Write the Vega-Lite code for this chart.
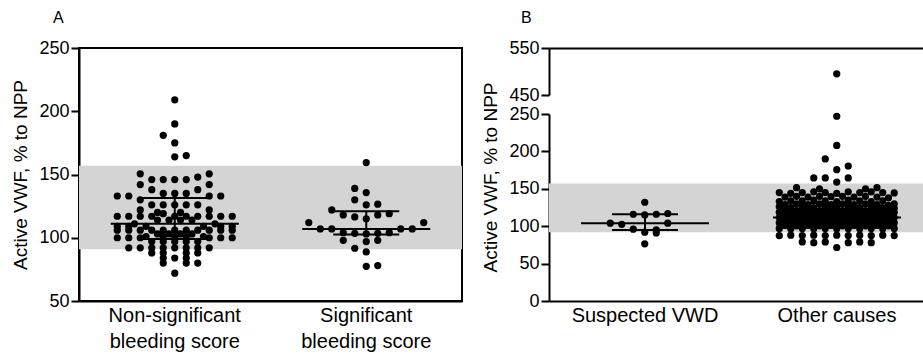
{
  "$schema": "https://vega.github.io/schema/vega-lite/v6.json",
  "padding": {"left": 10, "top": 9, "right": 0, "bottom": 0},
  "spacing": 18,
  "resolve": {"scale": {"x": "independent", "y": "independent"}},
  "config": {
    "font": "Liberation Sans",
    "view": {"stroke": null},
    "axis": {"domainColor": "black", "domainWidth": 2, "tickColor": "black", "tickWidth": 2, "tickSize": 8, "labelColor": "black", "labelFontSize": 18, "titleColor": "black", "titleFontSize": 19, "titleFontWeight": "normal", "grid": false, "labelFont": "Liberation Sans", "titleFont": "Liberation Sans", "labelOverlap": false},
    "axisX": {"ticks": false, "labelPadding": 4, "labelFontSize": 20, "labelAngle": 0, "labelLineHeight": 26},
    "axisY": {"labelPadding": 2, "titlePadding": 8, "labelOverlap": false},
    "title": {"fontSize": 16, "fontWeight": "normal", "font": "Liberation Sans", "color": "black", "anchor": "start", "frame": "group"}
  },
  "datasets": {
    "bandA": [{"lo": 91, "hi": 157}],
    "bandB": [{"lo": 92, "hi": 157}],
    "medA": [{"g": "NS", "v": 111}, {"g": "S", "v": 107}],
    "quartA": [{"g": "NS", "v": 99}, {"g": "NS", "v": 131.5}, {"g": "S", "v": 102.5}, {"g": "S", "v": 121}],
    "iqrA": [{"g": "NS", "q1": 99, "q3": 131.5}, {"g": "S", "q1": 102.5, "q3": 121}],
    "medB": [{"g": "SV", "v": 104}, {"g": "OC", "v": 111.5}],
    "quartB": [{"g": "SV", "v": 95}, {"g": "SV", "v": 116}, {"g": "OC", "v": 99}, {"g": "OC", "v": 131}],
    "iqrB": [{"g": "SV", "q1": 95, "q3": 116}, {"g": "OC", "q1": 99, "q3": 131}],
    "ptsA": [
      {"g":"NS","v":209,"s":0},{"g":"NS","v":190,"s":0},{"g":"NS","v":181,"s":-1},{"g":"NS","v":175,"s":0},{"g":"NS","v":164,"s":0},{"g":"NS","v":165,"s":1},
      {"g":"NS","v":150.5,"s":-3},{"g":"NS","v":150.5,"s":3},{"g":"NS","v":148,"s":2},
      {"g":"NS","v":146,"s":-2},{"g":"NS","v":146,"s":-1},{"g":"NS","v":146,"s":0},{"g":"NS","v":146,"s":1},
      {"g":"NS","v":142,"s":-3},{"g":"NS","v":142,"s":3},
      {"g":"NS","v":138,"s":-2},{"g":"NS","v":138,"s":2},
      {"g":"NS","v":135,"s":-1},{"g":"NS","v":135,"s":0},{"g":"NS","v":135,"s":1},
      {"g":"NS","v":133,"s":-5},{"g":"NS","v":133,"s":-4},{"g":"NS","v":133,"s":3},{"g":"NS","v":133,"s":4},
      {"g":"NS","v":130,"s":-3},
      {"g":"NS","v":126,"s":-2},{"g":"NS","v":126,"s":-1},{"g":"NS","v":126,"s":0},{"g":"NS","v":126,"s":1},{"g":"NS","v":126,"s":2},
      {"g":"NS","v":122,"s":-3},{"g":"NS","v":122,"s":3},
      {"g":"NS","v":120,"s":-1.5},{"g":"NS","v":120,"s":0.5},
      {"g":"NS","v":117,"s":-5},{"g":"NS","v":117,"s":-4},{"g":"NS","v":117,"s":-3},{"g":"NS","v":117,"s":-2},{"g":"NS","v":117,"s":0},{"g":"NS","v":117,"s":1},{"g":"NS","v":117,"s":2},{"g":"NS","v":117,"s":3},{"g":"NS","v":117,"s":4},{"g":"NS","v":117,"s":5},{"g":"NS","v":119,"s":-1},
      {"g":"NS","v":114,"s":-1.5},{"g":"NS","v":114,"s":-0.5},{"g":"NS","v":114,"s":0.5},{"g":"NS","v":114,"s":1.5},
      {"g":"NS","v":111,"s":-3.5},{"g":"NS","v":111,"s":3.5},
      {"g":"NS","v":109,"s":-5},{"g":"NS","v":109,"s":-4},{"g":"NS","v":109,"s":-2.5},{"g":"NS","v":109,"s":2.5},{"g":"NS","v":109,"s":4},{"g":"NS","v":109,"s":5},
      {"g":"NS","v":106,"s":-5},{"g":"NS","v":106,"s":-4},{"g":"NS","v":106,"s":-3},{"g":"NS","v":106,"s":-2},{"g":"NS","v":106,"s":-1},{"g":"NS","v":106,"s":0},{"g":"NS","v":106,"s":1},{"g":"NS","v":106,"s":2},{"g":"NS","v":106,"s":3},{"g":"NS","v":106,"s":4},{"g":"NS","v":106,"s":5},
      {"g":"NS","v":103,"s":-1.5},{"g":"NS","v":103,"s":-0.5},{"g":"NS","v":103,"s":0.5},{"g":"NS","v":103,"s":1.5},
      {"g":"NS","v":101,"s":-2.5},{"g":"NS","v":101,"s":-1},{"g":"NS","v":101,"s":0},{"g":"NS","v":101,"s":1},{"g":"NS","v":101,"s":2.5},
      {"g":"NS","v":100,"s":-5},{"g":"NS","v":100,"s":-4},{"g":"NS","v":100,"s":-3},{"g":"NS","v":100,"s":3},{"g":"NS","v":100,"s":4},{"g":"NS","v":100,"s":5},
      {"g":"NS","v":97,"s":-2},{"g":"NS","v":97,"s":-1},{"g":"NS","v":97,"s":0},{"g":"NS","v":97,"s":1},{"g":"NS","v":97,"s":2},
      {"g":"NS","v":92,"s":-4},{"g":"NS","v":92,"s":-3},{"g":"NS","v":92,"s":-2},{"g":"NS","v":92,"s":-1},{"g":"NS","v":92,"s":0},{"g":"NS","v":92,"s":1},{"g":"NS","v":92,"s":2},{"g":"NS","v":92,"s":3},
      {"g":"NS","v":88,"s":-2},{"g":"NS","v":88,"s":-1},{"g":"NS","v":88,"s":1},{"g":"NS","v":88,"s":2},
      {"g":"NS","v":84,"s":-1},{"g":"NS","v":84,"s":0},{"g":"NS","v":84,"s":1},
      {"g":"NS","v":80,"s":-1},{"g":"NS","v":80,"s":1},{"g":"NS","v":80,"s":2},
      {"g":"NS","v":72,"s":0},
      {"g":"S","v":159.4,"s":0},{"g":"S","v":139,"s":-1},{"g":"S","v":135.7,"s":0},{"g":"S","v":130,"s":-1},{"g":"S","v":126,"s":0},{"g":"S","v":126.5,"s":1},
      {"g":"S","v":122,"s":-3},{"g":"S","v":118,"s":-2},{"g":"S","v":116.5,"s":-1},{"g":"S","v":118,"s":1},{"g":"S","v":119,"s":2},{"g":"S","v":115,"s":0},
      {"g":"S","v":112,"s":-5},{"g":"S","v":112,"s":5},{"g":"S","v":107,"s":-4},{"g":"S","v":107,"s":-3},{"g":"S","v":107,"s":3},{"g":"S","v":107,"s":4},
      {"g":"S","v":104,"s":-2},{"g":"S","v":103.5,"s":-1},{"g":"S","v":103,"s":0},{"g":"S","v":103.5,"s":1},{"g":"S","v":104,"s":2},
      {"g":"S","v":98,"s":-2},{"g":"S","v":98,"s":1},{"g":"S","v":97,"s":0},
      {"g":"S","v":91.7,"s":-1},{"g":"S","v":88.8,"s":0},{"g":"S","v":77.4,"s":0},{"g":"S","v":78,"s":1}
    ],
    "ptsB": [
      {"g":"SV","v":132,"s":0},{"g":"SV","v":116,"s":-1},{"g":"SV","v":115,"s":0},{"g":"SV","v":116,"s":1},{"g":"SV","v":117,"s":2},
      {"g":"SV","v":104,"s":-3},{"g":"SV","v":102.5,"s":-2},{"g":"SV","v":104,"s":2},
      {"g":"SV","v":96,"s":-1},{"g":"SV","v":92,"s":0},{"g":"SV","v":95,"s":1},{"g":"SV","v":91,"s":1},{"g":"SV","v":76.5,"s":0},
      {"g":"OC","v":495,"s":0},{"g":"OC","v":247,"s":0},{"g":"OC","v":208,"s":0},{"g":"OC","v":190,"s":-1},{"g":"OC","v":180.5,"s":1},{"g":"OC","v":175.5,"s":0},
      {"g":"OC","v":164.5,"s":-2},{"g":"OC","v":164.5,"s":-1},{"g":"OC","v":164.5,"s":1},{"g":"OC","v":159,"s":0},
      {"g":"OC","v":151.5,"s":-3.5},{"g":"OC","v":150,"s":-1.5},{"g":"OC","v":150,"s":2.5},{"g":"OC","v":151.5,"s":3.5},
      {"g":"OC","v":145,"s":-5},{"g":"OC","v":144,"s":-4},{"g":"OC","v":145,"s":-3},{"g":"OC","v":146,"s":-2},{"g":"OC","v":145,"s":-1},{"g":"OC","v":144,"s":0},{"g":"OC","v":146,"s":1},{"g":"OC","v":145,"s":2},{"g":"OC","v":146,"s":3},{"g":"OC","v":145,"s":4},{"g":"OC","v":144.5,"s":5},
      {"g":"OC","v":139,"s":-4.5},{"g":"OC","v":140,"s":-3.5},{"g":"OC","v":139,"s":-2.5},{"g":"OC","v":140,"s":-1.5},{"g":"OC","v":139.5,"s":-0.5},{"g":"OC","v":140,"s":0.5},{"g":"OC","v":139,"s":1.5},{"g":"OC","v":140,"s":2.5},{"g":"OC","v":139,"s":3.5},{"g":"OC","v":138,"s":4.5},
      {"g":"OC","v":133,"s":-5},{"g":"OC","v":134,"s":-4},{"g":"OC","v":134,"s":-3},{"g":"OC","v":135,"s":-2},{"g":"OC","v":134,"s":-1},{"g":"OC","v":133,"s":0},{"g":"OC","v":135,"s":1},{"g":"OC","v":134,"s":2},{"g":"OC","v":133,"s":3},{"g":"OC","v":134,"s":4},{"g":"OC","v":130,"s":5},
      {"g":"OC","v":129,"s":-4.5},{"g":"OC","v":130,"s":-3.5},{"g":"OC","v":129,"s":-2.5},{"g":"OC","v":130,"s":-1.5},{"g":"OC","v":129,"s":-0.5},{"g":"OC","v":130,"s":0.5},{"g":"OC","v":129,"s":1.5},{"g":"OC","v":130,"s":2.5},{"g":"OC","v":129,"s":3.5},{"g":"OC","v":128,"s":4.5},
      {"g":"OC","v":126,"s":-5},{"g":"OC","v":125,"s":-4},{"g":"OC","v":126,"s":-3},{"g":"OC","v":125,"s":-2},{"g":"OC","v":126,"s":-1},{"g":"OC","v":125,"s":0},{"g":"OC","v":126,"s":1},{"g":"OC","v":125,"s":2},{"g":"OC","v":126,"s":3},{"g":"OC","v":125,"s":4},{"g":"OC","v":124,"s":5},
      {"g":"OC","v":122,"s":-4.5},{"g":"OC","v":121,"s":-3.5},{"g":"OC","v":122,"s":-2.5},{"g":"OC","v":121,"s":-1.5},{"g":"OC","v":122,"s":-0.5},{"g":"OC","v":121,"s":0.5},{"g":"OC","v":122,"s":1.5},{"g":"OC","v":121,"s":2.5},{"g":"OC","v":122,"s":3.5},{"g":"OC","v":121,"s":4.5},
      {"g":"OC","v":118.5,"s":-5},{"g":"OC","v":118,"s":-4},{"g":"OC","v":119,"s":-3},{"g":"OC","v":118,"s":-2},{"g":"OC","v":119,"s":-1},{"g":"OC","v":118.5,"s":0},{"g":"OC","v":119,"s":1},{"g":"OC","v":118,"s":2},{"g":"OC","v":119,"s":3},{"g":"OC","v":118,"s":4},{"g":"OC","v":118.5,"s":5},
      {"g":"OC","v":115,"s":-4.5},{"g":"OC","v":114,"s":-3.5},{"g":"OC","v":115,"s":-2.5},{"g":"OC","v":114,"s":-1.5},{"g":"OC","v":115,"s":-0.5},{"g":"OC","v":114,"s":0.5},{"g":"OC","v":115,"s":1.5},{"g":"OC","v":114,"s":2.5},{"g":"OC","v":115,"s":3.5},{"g":"OC","v":114,"s":4.5},
      {"g":"OC","v":111.5,"s":-5},{"g":"OC","v":111,"s":-4},{"g":"OC","v":112,"s":-3},{"g":"OC","v":111,"s":-2},{"g":"OC","v":112,"s":-1},{"g":"OC","v":111.5,"s":0},{"g":"OC","v":112,"s":1},{"g":"OC","v":111,"s":2},{"g":"OC","v":112,"s":3},{"g":"OC","v":111,"s":4},{"g":"OC","v":111.5,"s":5},
      {"g":"OC","v":108,"s":-4.5},{"g":"OC","v":107,"s":-3.5},{"g":"OC","v":108,"s":-2.5},{"g":"OC","v":107,"s":-1.5},{"g":"OC","v":108,"s":-0.5},{"g":"OC","v":107,"s":0.5},{"g":"OC","v":108,"s":1.5},{"g":"OC","v":107,"s":2.5},{"g":"OC","v":108,"s":3.5},{"g":"OC","v":107,"s":4.5},
      {"g":"OC","v":104.5,"s":-5},{"g":"OC","v":104,"s":-4},{"g":"OC","v":105,"s":-3},{"g":"OC","v":104,"s":-2},{"g":"OC","v":105,"s":-1},{"g":"OC","v":104.5,"s":0},{"g":"OC","v":105,"s":1},{"g":"OC","v":104,"s":2},{"g":"OC","v":105,"s":3},{"g":"OC","v":104,"s":4},{"g":"OC","v":104.5,"s":5},
      {"g":"OC","v":101,"s":-4.5},{"g":"OC","v":100.5,"s":-3.5},{"g":"OC","v":101,"s":-2.5},{"g":"OC","v":100.5,"s":-1.5},{"g":"OC","v":101,"s":-0.5},{"g":"OC","v":100.5,"s":0.5},{"g":"OC","v":101,"s":1.5},{"g":"OC","v":100.5,"s":2.5},{"g":"OC","v":101,"s":3.5},{"g":"OC","v":100.5,"s":4.5},
      {"g":"OC","v":97,"s":-5},{"g":"OC","v":96.5,"s":-4},{"g":"OC","v":97,"s":-3},{"g":"OC","v":96.5,"s":-2},{"g":"OC","v":97,"s":-1},{"g":"OC","v":96.5,"s":0},{"g":"OC","v":97,"s":1},{"g":"OC","v":96.5,"s":2},{"g":"OC","v":97,"s":3},{"g":"OC","v":96.5,"s":4},{"g":"OC","v":97,"s":5},
      {"g":"OC","v":87.5,"s":-5},{"g":"OC","v":88,"s":-4},{"g":"OC","v":87.5,"s":-3},{"g":"OC","v":88,"s":-2},{"g":"OC","v":87.5,"s":-1},{"g":"OC","v":88,"s":0},{"g":"OC","v":87.5,"s":1},{"g":"OC","v":88,"s":2},{"g":"OC","v":87.5,"s":3},{"g":"OC","v":88,"s":4},{"g":"OC","v":87.5,"s":5},
      {"g":"OC","v":79,"s":-3},{"g":"OC","v":78,"s":-2},{"g":"OC","v":79,"s":-1},{"g":"OC","v":78,"s":1},{"g":"OC","v":79,"s":2},{"g":"OC","v":78,"s":3},
      {"g":"OC","v":71.5,"s":0}
    ]
  },
  "hconcat": [
    {
      "width": 383,
      "height": 253,
      "view": {"stroke": "black", "strokeWidth": 2},
      "title": {"text": "A", "dx": -26, "offset": 13},
      "layer": [
        {
          "data": {"name": "bandA"},
          "mark": {"type": "rect", "color": "#d4d4d4"},
          "encoding": {
            "y": {"field": "lo", "type": "quantitative", "scale": {"domain": [50, 250], "nice": false, "zero": false}, "axis": {"title": "Active VWF, % to NPP", "values": [50, 100, 150, 200, 250], "labelOverlap": false}},
            "y2": {"field": "hi"}
          }
        },
        {
          "data": {"name": "ptsA"},
          "mark": {"type": "circle", "size": 52, "color": "black", "opacity": 1},
          "encoding": {
            "x": {"field": "g", "type": "nominal", "scale": {"type": "band", "domain": ["NS", "S"], "paddingInner": 0, "paddingOuter": 0}, "axis": {"title": null, "labelExpr": "datum.value == 'NS' ? ['Non-significant', 'bleeding score'] : ['Significant', 'bleeding score']"}},
            "xOffset": {"field": "s", "type": "quantitative", "scale": {"domain": [-8.33, 8.33]}},
            "y": {"field": "v", "type": "quantitative", "axis": {"title": "Active VWF, % to NPP", "values": [50, 100, 150, 200, 250], "labelOverlap": false}}
          }
        },
        {
          "data": {"name": "medA"},
          "mark": {"type": "point", "shape": "M-1,0L1,0", "size": 16384, "filled": false, "strokeWidth": 2, "color": "black", "opacity": 1},
          "encoding": {
            "x": {"field": "g", "type": "nominal"},
            "y": {"field": "v", "type": "quantitative", "axis": {"title": "Active VWF, % to NPP", "values": [50, 100, 150, 200, 250], "labelOverlap": false}}
          }
        },
        {
          "data": {"name": "quartA"},
          "mark": {"type": "point", "shape": "M-1,0L1,0", "size": 4356, "filled": false, "strokeWidth": 2, "color": "black", "opacity": 1},
          "encoding": {
            "x": {"field": "g", "type": "nominal"},
            "y": {"field": "v", "type": "quantitative", "axis": {"title": "Active VWF, % to NPP", "values": [50, 100, 150, 200, 250], "labelOverlap": false}}
          }
        },
        {
          "data": {"name": "iqrA"},
          "mark": {"type": "rule", "strokeWidth": 2, "color": "black"},
          "encoding": {
            "x": {"field": "g", "type": "nominal"},
            "y": {"field": "q1", "type": "quantitative", "axis": {"title": "Active VWF, % to NPP", "values": [50, 100, 150, 200, 250], "labelOverlap": false}},
            "y2": {"field": "q3"}
          }
        }
      ]
    },
    {
      "spacing": 19,
      "bounds": "flush",
      "resolve": {"scale": {"x": "independent", "y": "independent"}},
      "vconcat": [
        {
          "width": 384,
          "height": 47,
          "title": {"text": "B", "dx": -28, "offset": 13},
          "data": {"name": "ptsB"},
          "transform": [{"filter": "datum.v >= 450"}],
          "mark": {"type": "circle", "size": 52, "color": "black", "opacity": 1},
          "encoding": {
            "x": {"field": "g", "type": "nominal", "scale": {"type": "band", "domain": ["SV", "OC"], "paddingInner": 0, "paddingOuter": 0}, "axis": {"orient": "top", "title": null, "labels": false, "ticks": false, "domain": true}},
            "xOffset": {"field": "s", "type": "quantitative", "scale": {"domain": [-8.33, 8.33]}},
            "y": {"field": "v", "type": "quantitative", "scale": {"domain": [450, 550], "nice": false, "zero": false}, "axis": {"title": null, "values": [450, 550], "labelOverlap": false}}
          }
        },
        {
          "width": 384,
          "height": 187,
          "layer": [
            {
              "data": {"name": "bandB"},
              "mark": {"type": "rect", "color": "#d4d4d4"},
              "encoding": {
                "y": {"field": "lo", "type": "quantitative", "scale": {"domain": [0, 250], "nice": false, "zero": false}, "axis": {"title": "Active VWF, % to NPP", "values": [0, 50, 100, 150, 200, 250], "labelOverlap": false, "titleY": 63}},
                "y2": {"field": "hi"}
              }
            },
            {
              "data": {"name": "ptsB"},
              "transform": [{"filter": "datum.v <= 250"}],
              "mark": {"type": "circle", "size": 52, "color": "black", "opacity": 1},
              "encoding": {
                "x": {"field": "g", "type": "nominal", "scale": {"type": "band", "domain": ["SV", "OC"], "paddingInner": 0, "paddingOuter": 0}, "axis": {"title": null, "labelExpr": "datum.value == 'SV' ? 'Suspected VWD' : 'Other causes'"}},
                "xOffset": {"field": "s", "type": "quantitative", "scale": {"domain": [-8.33, 8.33]}},
                "y": {"field": "v", "type": "quantitative", "axis": {"title": "Active VWF, % to NPP", "values": [0, 50, 100, 150, 200, 250], "labelOverlap": false, "titleY": 63}}
              }
            },
            {
              "data": {"name": "medB"},
              "mark": {"type": "point", "shape": "M-1,0L1,0", "size": 16384, "filled": false, "strokeWidth": 2, "color": "black", "opacity": 1},
              "encoding": {
                "x": {"field": "g", "type": "nominal"},
                "y": {"field": "v", "type": "quantitative", "axis": {"title": "Active VWF, % to NPP", "values": [0, 50, 100, 150, 200, 250], "labelOverlap": false, "titleY": 63}}
              }
            },
            {
              "data": {"name": "quartB"},
              "mark": {"type": "point", "shape": "M-1,0L1,0", "size": 4356, "filled": false, "strokeWidth": 2, "color": "black", "opacity": 1},
              "encoding": {
                "x": {"field": "g", "type": "nominal"},
                "y": {"field": "v", "type": "quantitative", "axis": {"title": "Active VWF, % to NPP", "values": [0, 50, 100, 150, 200, 250], "labelOverlap": false, "titleY": 63}}
              }
            },
            {
              "data": {"name": "iqrB"},
              "mark": {"type": "rule", "strokeWidth": 2, "color": "black"},
              "encoding": {
                "x": {"field": "g", "type": "nominal"},
                "y": {"field": "q1", "type": "quantitative", "axis": {"title": "Active VWF, % to NPP", "values": [0, 50, 100, 150, 200, 250], "labelOverlap": false, "titleY": 63}},
                "y2": {"field": "q3"}
              }
            }
          ]
        }
      ]
    }
  ]
}
